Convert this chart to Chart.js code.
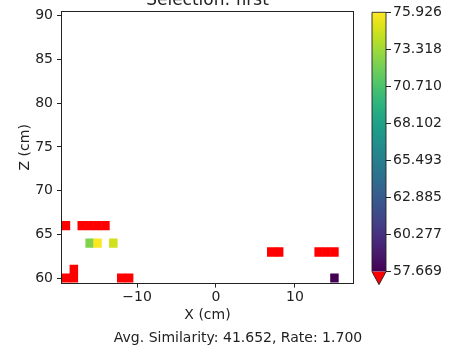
<!DOCTYPE html>
<html>
<head>
<meta charset="utf-8">
<script src="https://cdn.jsdelivr.net/npm/chart.js@4.4.0/dist/chart.umd.min.js"></script>
<style>
  html, body { margin: 0; padding: 0; background: #fff; overflow: hidden; width: 460px; height: 352px; }
  #main { position: absolute; left: 0; top: -12px; width: 476px; height: 364px; }
  #cbar { position: absolute; left: 360px; top: 0; width: 100px; height: 352px; }
</style>
</head>
<body>
<div id="main"><canvas id="mainCanvas"></canvas></div>
<div id="cbar"><canvas id="cbCanvas"></canvas></div>
<script>
// Grid cells: centre X (cm), centre Z (cm) and similarity value
const CELL_X   = [-19, -17, -16, -15, -14, -16, -15, -13, -19, -18, -18, -12, -11, 7, 8, 13, 14, 15, 15];
const CELL_Z   = [ 66,  66,  66,  66,  66,  64,  64,  64,  60,  60,  61,  60,  60, 63, 63, 63, 63, 63, 60];
const CELL_SIM = [31.4, 28.9, 35.2, 40.1, 33.7, 72.46, 75.926, 74.65, 22.5, 30.8, 27.3, 36.4, 38.9, 29.6, 34.1, 41.8, 37.2, 32.5, 57.669];

// Colour scale limits and colourbar ticks
const VMIN = 57.669;
const VMAX = 75.926;
const CB_TICKS = [57.669, 60.277, 62.885, 65.493, 68.102, 70.710, 73.318, 75.926];

// Axis ticks and texts
const X_TICKS = [-10, 0, 10];
const Z_TICKS = [60, 65, 70, 75, 80, 85, 90];
const TITLE = 'Selection: first';
const X_LABEL = 'X (cm)';
const Z_LABEL = 'Z (cm)';
const FOOTER = 'Avg. Similarity: 41.652, Rate: 1.700';

const FONT = 'DejaVu Sans';
const INK = '#222';
const UNDER_COLOR = '#ff0000';

// viridis colormap, sampled every 0.05
const VIRIDIS = ['#440154','#471365','#482475','#463480','#414487','#3b528b','#355f8d','#2f6c8e',
  '#2a788e','#25848e','#21918c','#1e9c89','#22a884','#2fb47c','#44bf70','#5ec962','#7ad151',
  '#9bd93c','#bddf26','#dfe318','#fde725'];

function hexRgb(h) {
  return [parseInt(h.slice(1, 3), 16), parseInt(h.slice(3, 5), 16), parseInt(h.slice(5, 7), 16)];
}
function viridis(t) {
  t = Math.max(0, Math.min(1, t));
  const f = t * (VIRIDIS.length - 1);
  const i = Math.min(Math.floor(f), VIRIDIS.length - 2);
  const u = f - i;
  const a = hexRgb(VIRIDIS[i]), b = hexRgb(VIRIDIS[i + 1]);
  const c = a.map((v, k) => Math.round(v + (b[k] - v) * u));
  return `rgb(${c[0]},${c[1]},${c[2]})`;
}
function cellColor(v) {
  return v < VMIN ? UNDER_COLOR : viridis((v - VMIN) / (VMAX - VMIN));
}
const fmtMinus = v => String(v).replace('-', '\u2212');

// Frame drawn on all four sides of the plot area
const framePlugin = {
  id: 'frame',
  afterDraw(chart) {
    const { ctx, chartArea: a } = chart;
    ctx.save();
    ctx.strokeStyle = INK;
    ctx.lineWidth = 1;
    ctx.strokeRect(Math.round(a.left) - 0.5, Math.round(a.top) - 0.5,
      Math.round(a.right) - Math.round(a.left) + 1, Math.round(a.bottom) - Math.round(a.top) + 1);
    ctx.restore();
  }
};

const cells = CELL_X.map((x, i) => ({ x: x, y: [CELL_Z[i] - 0.5, CELL_Z[i] + 0.5] }));

new Chart(document.getElementById('mainCanvas'), {
  type: 'bar',
  data: {
    datasets: [{
      data: cells,
      backgroundColor: CELL_SIM.map(cellColor),
      borderWidth: 0,
      inflateAmount: 0.3,
      categoryPercentage: 1.0,
      barPercentage: 1.0
    }]
  },
  options: {
    responsive: true,
    maintainAspectRatio: false,
    animation: false,
    layout: { padding: { left: 0, right: 0, top: 0, bottom: 5 } },
    plugins: {
      legend: { display: false },
      tooltip: { enabled: false },
      title: {
        display: true, text: TITLE, fullSize: false, color: INK,
        font: { family: FONT, size: 17, weight: 'normal' },
        padding: { top: 2.3, bottom: 1.3 }
      },
      subtitle: {
        display: true, text: FOOTER, position: 'bottom', color: INK,
        font: { family: FONT, size: 14, weight: 'normal' },
        padding: { top: 6, bottom: 0 }
      }
    },
    scales: {
      x: {
        type: 'linear', offset: false, min: -19.5, max: 17.35,
        afterBuildTicks: s => { s.ticks = X_TICKS.map(v => ({ value: v })); },
        ticks: { color: INK, padding: 1, autoSkip: false, maxRotation: 0,
          font: { family: FONT, size: 14 }, callback: v => fmtMinus(v) },
        grid: { drawOnChartArea: false, drawTicks: true, tickLength: 5, color: INK, offset: false },
        border: { display: false },
        title: { display: true, text: X_LABEL, color: INK, font: { family: FONT, size: 14 },
          padding: { top: 1, bottom: 0 } }
      },
      y: {
        type: 'linear', min: 59.5, max: 90.4,
        afterBuildTicks: s => { s.ticks = Z_TICKS.map(v => ({ value: v })); },
        afterFit: s => { s.width = 62; },
        ticks: { color: INK, padding: 4, autoSkip: false, font: { family: FONT, size: 14 } },
        grid: { drawOnChartArea: false, drawTicks: true, tickLength: 5, color: INK },
        border: { display: false },
        title: { display: true, text: Z_LABEL, color: INK, font: { family: FONT, size: 14 },
          padding: { top: 16.6, bottom: 0 } }
      },
      // empty right-hand axis that reserves the room where the colourbar sits
      gap: {
        type: 'linear', position: 'right', display: true,
        afterFit: s => { s.width = 123; },
        ticks: { display: false },
        grid: { display: false, drawTicks: false },
        border: { display: false }
      }
    }
  },
  plugins: [framePlugin]
});

// Colourbar: one floating bar spanning [VMIN, VMAX] filled with the colormap,
// plus a red "under" extension triangle and an outline.
const colorbarPlugin = {
  id: 'colorbarExtras',
  afterDatasetsDraw(chart) {
    const { ctx, chartArea: a, scales } = chart;
    const y0 = scales.y.getPixelForValue(VMIN);
    const y1 = scales.y.getPixelForValue(VMAX);
    const ext = 0.05 * (y0 - y1);
    const mid = (a.left + a.right) / 2;
    ctx.save();
    ctx.beginPath();
    ctx.moveTo(a.left, y0);
    ctx.lineTo(a.right, y0);
    ctx.lineTo(mid, y0 + ext);
    ctx.closePath();
    ctx.fillStyle = UNDER_COLOR;
    ctx.fill();
    ctx.beginPath();
    ctx.moveTo(a.left, y1);
    ctx.lineTo(a.right, y1);
    ctx.lineTo(a.right, y0);
    ctx.lineTo(mid, y0 + ext);
    ctx.lineTo(a.left, y0);
    ctx.closePath();
    ctx.strokeStyle = INK;
    ctx.lineWidth = 0.9;
    ctx.stroke();
    ctx.restore();
  }
};

new Chart(document.getElementById('cbCanvas'), {
  type: 'bar',
  data: {
    labels: [''],
    datasets: [{
      data: [[VMIN, VMAX]],
      backgroundColor: (c) => {
        const ch = c.chart;
        if (!ch.chartArea) return VIRIDIS[0];
        const yb = ch.scales.y.getPixelForValue(VMIN);
        const yt = ch.scales.y.getPixelForValue(VMAX);
        const g = ch.ctx.createLinearGradient(0, yb, 0, yt);
        VIRIDIS.forEach((col, i) => g.addColorStop(i / (VIRIDIS.length - 1), col));
        return g;
      },
      borderWidth: 0,
      inflateAmount: 0,
      categoryPercentage: 1.0,
      barPercentage: 1.0
    }]
  },
  options: {
    responsive: true,
    maintainAspectRatio: false,
    animation: false,
    layout: { padding: { left: 12, right: 14, top: 12.3, bottom: 80.3 } },
    plugins: { legend: { display: false }, tooltip: { enabled: false } },
    scales: {
      x: { display: false },
      y: {
        position: 'right', min: VMIN, max: VMAX,
        afterBuildTicks: s => { s.ticks = CB_TICKS.map(v => ({ value: v })); },
        afterFit: s => { s.width = 60; },
        ticks: { color: INK, padding: 2, autoSkip: false, font: { family: FONT, size: 14 },
          callback: v => v.toFixed(3) },
        grid: { drawOnChartArea: false, drawTicks: true, tickLength: 5, color: INK },
        border: { display: false }
      }
    }
  },
  plugins: [colorbarPlugin]
});
</script>
</body>
</html>
